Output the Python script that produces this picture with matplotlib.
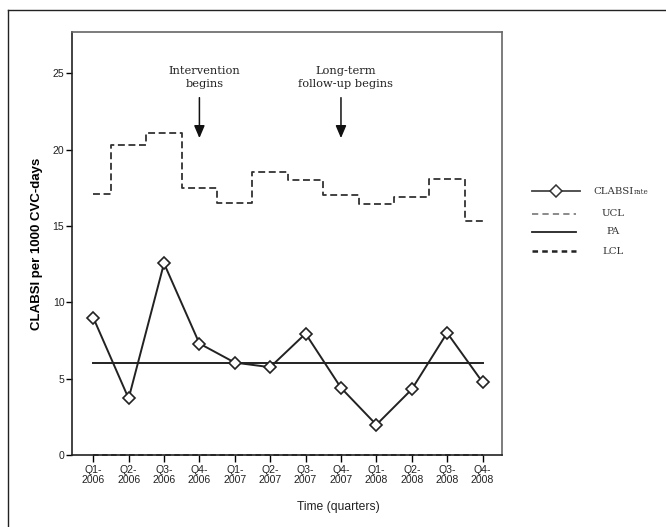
import matplotlib
matplotlib.use("Agg")
import matplotlib.pyplot as plt
from matplotlib.lines import Line2D
import numpy as np

# Quarterly CLABSI rates per 1000 CVC-days
quarters = ["Q1-\n2006", "Q2-\n2006", "Q3-\n2006", "Q4-\n2006",
            "Q1-\n2007", "Q2-\n2007", "Q3-\n2007", "Q4-\n2007",
            "Q1-\n2008", "Q2-\n2008", "Q3-\n2008", "Q4-\n2008"]
clabsi_rate = [9.0, 3.7, 12.55, 7.3, 6.05, 5.75, 7.95, 4.4, 1.98, 4.3, 8.0, 4.77]
ucl = [17.1, 20.3, 21.1, 17.5, 16.5, 18.5, 18.0, 17.05, 16.45, 16.9, 18.1, 15.3]
lcl = [0.0] * 12
process_average = 6.0

intervention_idx = 3
followup_idx = 7

plt.rcParams["lines.scale_dashes"] = False

fig = plt.figure(figsize=(6.66, 5.27), dpi=100)
ax = fig.add_axes([72 / 666, 1 - 455 / 527, 430 / 666, 423 / 527])

x = np.arange(len(quarters))
line_col = "#222222"

# Control limits drawn as steps centred on each quarter
ax.plot(x, ucl, drawstyle="steps-mid", color="#333333", lw=1.3,
        linestyle=(0, (5, 2.6)), zorder=2)
ax.plot(x, lcl, drawstyle="steps-mid", color="#111111", lw=1.1,
        linestyle=(0, (4, 2.5)), zorder=2, clip_on=False)
ax.plot([x[0], x[-1]], [process_average, process_average], color=line_col,
        lw=1.4, zorder=2)
ax.plot(x, clabsi_rate, color=line_col, lw=1.4, marker="D", markersize=6.2,
        markerfacecolor="white", markeredgecolor=line_col, markeredgewidth=1.2,
        zorder=3)

ax.set_xlim(-0.6, 11.55)
ax.set_ylim(0, 27.7)
ax.set_yticks([0, 5, 10, 15, 20, 25])
ax.set_xticks(x)
ax.set_xticklabels(quarters, fontsize=7.6, color="#222222", linespacing=1.0,
                   family="Liberation Sans")
for lab in ax.get_yticklabels():
    lab.set_fontsize(7.6)
    lab.set_color("#222222")
    lab.set_family("Liberation Sans")
ax.tick_params(axis="y", length=4, width=1, direction="out", pad=1.5)
ax.tick_params(axis="x", length=5, width=1, direction="out", pad=2)

for side in ("left", "bottom"):
    ax.spines[side].set_color("#222222")
    ax.spines[side].set_linewidth(1.2)
for side in ("top", "right"):
    ax.spines[side].set_color("#666666")
    ax.spines[side].set_linewidth(1.2)

ax.set_ylabel("CLABSI per 1000 CVC-days", fontsize=9.5, fontweight="bold",
              family="Liberation Sans", labelpad=7)
fig.text(338 / 666, 1 - 507 / 527, "Time (quarters)", fontsize=8.7,
         family="Liberation Sans", color="#222222", ha="center", va="center")

# Event annotations: label above a vertical arrow
serif = "DejaVu Serif"
for idx, label in ((intervention_idx, "Intervention\nbegins"),
                   (followup_idx, "Long-term\nfollow-up begins")):
    ax.text(idx + 0.14, 24.7, label, ha="center", va="center", fontsize=8.2,
            family=serif, linespacing=1.4, color="#222222")
    ax.annotate("", xy=(idx, 20.75), xytext=(idx, 23.4),
                arrowprops=dict(arrowstyle="-|>,head_width=0.32,head_length=0.75",
                                color="#111111", lw=1.1, mutation_scale=10,
                                shrinkA=0, shrinkB=0))

# Legend drawn to the right of the plot area
def fy(py):
    return 1 - py / 527

def fx(px):
    return px / 666

x0, x1 = fx(532), fx(580)
fig.add_artist(Line2D([x0, x1], [fy(191), fy(191)], color="#444444", lw=1.3))
fig.add_artist(Line2D([(x0 + x1) / 2], [fy(191)], marker="D", markersize=6.2,
                      markerfacecolor="white", markeredgecolor="#333333",
                      markeredgewidth=1.1, lw=0))
fig.add_artist(Line2D([x0, fx(576)], [fy(214), fy(214)], color="#777777",
                      lw=1.2, linestyle=(0, (4.5, 3))))
fig.add_artist(Line2D([x0, fx(576)], [fy(232), fy(232)], color="#222222", lw=1.3))
fig.add_artist(Line2D([x0, fx(576)], [fy(251), fy(251)], color="#222222",
                      lw=1.8, linestyle=(0, (4, 3))))
fig.text(fx(593), fy(191), "CLABSI", fontsize=7.3, family=serif,
         ha="left", va="center", color="#333333")
fig.text(fx(634), fy(192.5), "rate", fontsize=5.2, family=serif,
         ha="left", va="center", color="#333333")
fig.text(fx(613), fy(214), "UCL", fontsize=7.3, family=serif,
         ha="center", va="center", color="#333333")
fig.text(fx(613), fy(232), "PA", fontsize=7.3, family=serif,
         ha="center", va="center", color="#333333")
fig.text(fx(613), fy(251), "LCL", fontsize=7.3, family=serif,
         ha="center", va="center", color="#333333")

# Outer frame (left and top edges)
fig.add_artist(Line2D([fx(8), fx(8)], [0, fy(10)], color="#222222", lw=1.0))
fig.add_artist(Line2D([fx(8), 1], [fy(10), fy(10)], color="#222222", lw=1.0))

fig.savefig("out.png", dpi=100)
